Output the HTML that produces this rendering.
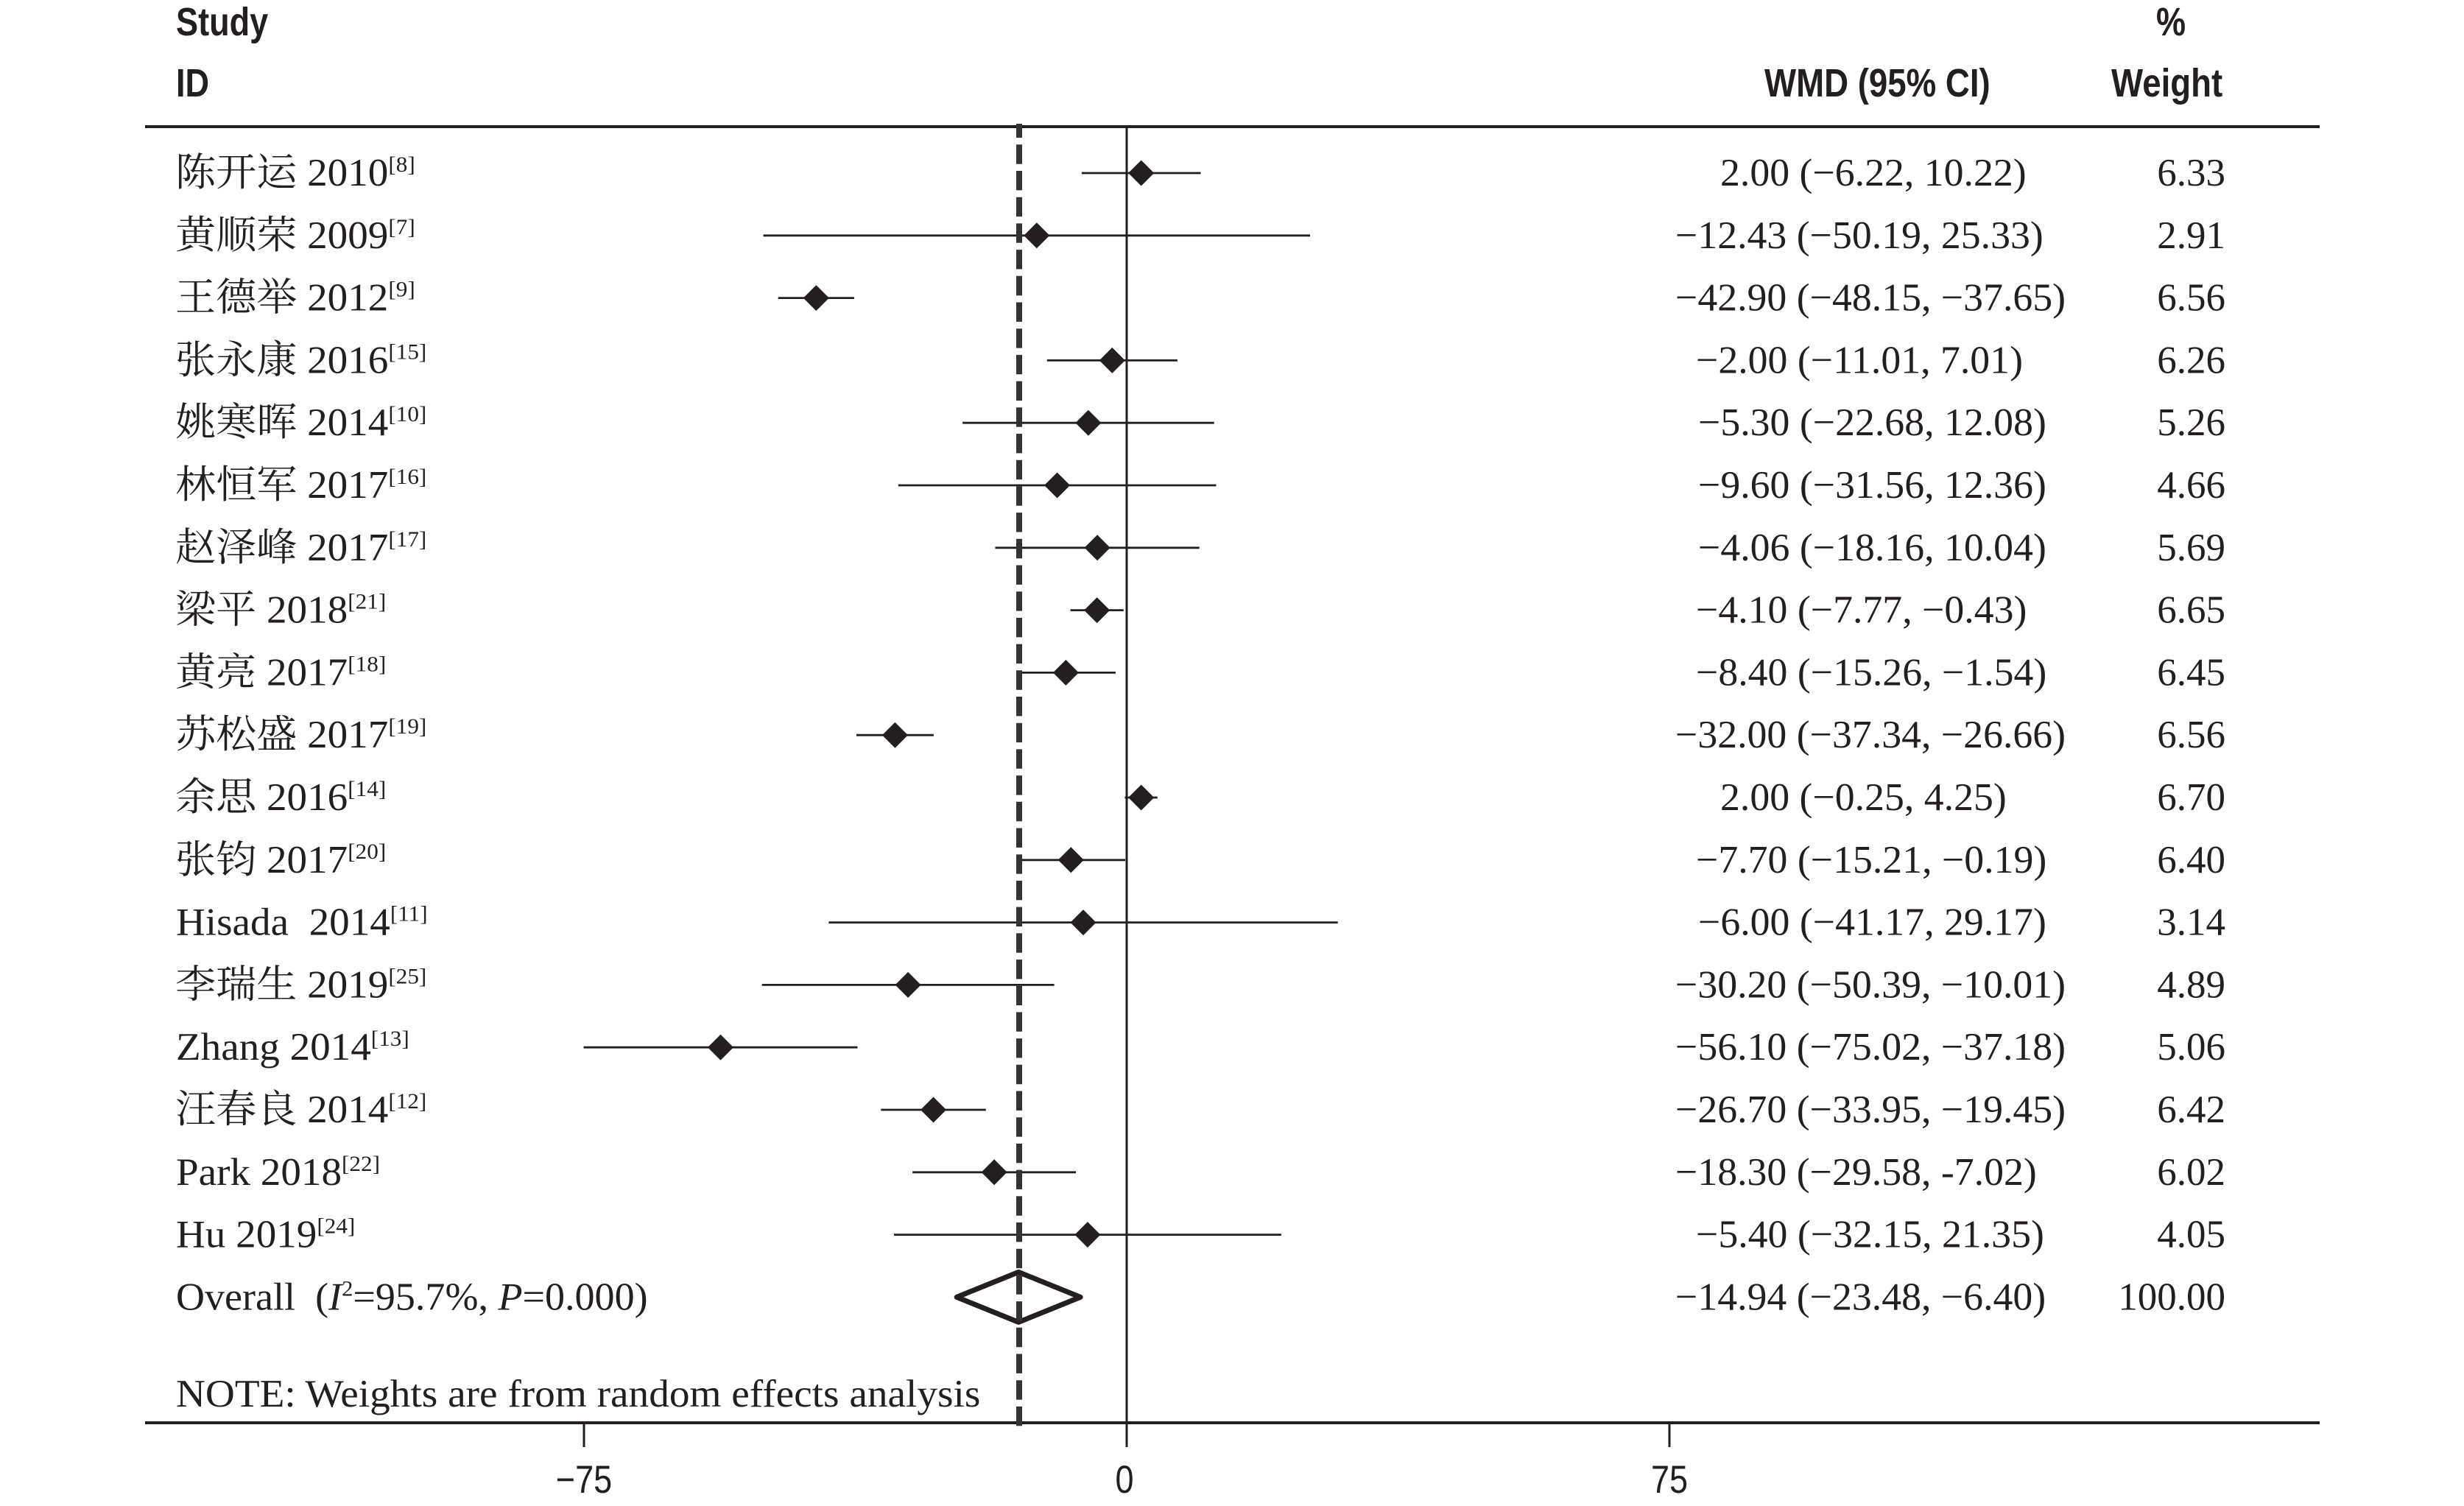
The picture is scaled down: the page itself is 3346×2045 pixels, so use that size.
<!DOCTYPE html>
<html>
<head>
<meta charset="utf-8">
<style>
  html, body { margin:0; padding:0; background:#ffffff; }
  svg { display:block; }
  .lab { font-family:"Liberation Serif","Noto Serif CJK SC",serif; font-size:53px; fill:#231f20; white-space:pre; }
  .hdr { font-family:"Liberation Sans",sans-serif; font-weight:bold; font-size:54px; fill:#231f20; }
  .tick { font-family:"Liberation Sans",sans-serif; font-size:53px; fill:#231f20; }
</style>
</head>
<body>
<svg width="3346" height="2045" viewBox="0 0 3346 2045" xmlns="http://www.w3.org/2000/svg">
  <rect x="0" y="0" width="3346" height="2045" fill="#ffffff"/>

  <!-- Headers -->
  <text class="hdr" transform="translate(239,48) scale(0.835,1)">Study</text>
  <text class="hdr" transform="translate(239,131) scale(0.835,1)">ID</text>
  <text class="hdr" transform="translate(2396,131) scale(0.845,1)">WMD (95% CI)</text>
  <text class="hdr" transform="translate(2928,48) scale(0.835,1)">%</text>
  <text class="hdr" transform="translate(2867,131) scale(0.845,1)">Weight</text>

  <!-- Top & bottom rules -->
  <rect x="197" y="170" width="2953" height="4" fill="#231f20"/>
  <rect x="197" y="1930" width="2953" height="4" fill="#231f20"/>

  <!-- Zero line -->
  <line x1="1530" y1="170" x2="1530" y2="1965" stroke="#231f20" stroke-width="3"/>

  <!-- Ticks -->
  <line x1="793" y1="1932" x2="793" y2="1965" stroke="#231f20" stroke-width="3"/>
  <line x1="2267" y1="1932" x2="2267" y2="1965" stroke="#231f20" stroke-width="3"/>

  <!-- Tick labels -->
  <text class="tick" text-anchor="middle" transform="translate(793,2027) scale(0.85,1)">−75</text>
  <text class="tick" text-anchor="middle" transform="translate(1527,2027) scale(0.85,1)">0</text>
  <text class="tick" text-anchor="middle" transform="translate(2267,2027) scale(0.85,1)">75</text>

  <!-- CI lines -->
  <g stroke="#231f20" stroke-width="2.8">
    <line x1="1468.9" y1="235" x2="1630.5" y2="235"/>
    <line x1="1036.6" y1="319.8" x2="1779.0" y2="319.8"/>
    <line x1="1056.7" y1="404.6" x2="1159.9" y2="404.6"/>
    <line x1="1421.8" y1="489.4" x2="1598.9" y2="489.4"/>
    <line x1="1307.1" y1="574.2" x2="1648.7" y2="574.2"/>
    <line x1="1219.8" y1="659" x2="1651.5" y2="659"/>
    <line x1="1351.5" y1="743.8" x2="1628.7" y2="743.8"/>
    <line x1="1453.6" y1="828.6" x2="1525.8" y2="828.6"/>
    <line x1="1380.0" y1="913.4" x2="1514.9" y2="913.4"/>
    <line x1="1162.9" y1="998.2" x2="1267.9" y2="998.2"/>
    <line x1="1527.5" y1="1083" x2="1571.8" y2="1083"/>
    <line x1="1380.5" y1="1167.8" x2="1528.1" y2="1167.8"/>
    <line x1="1125.3" y1="1252.6" x2="1816.7" y2="1252.6"/>
    <line x1="1034.7" y1="1337.4" x2="1431.6" y2="1337.4"/>
    <line x1="792.5" y1="1422.2" x2="1164.5" y2="1422.2"/>
    <line x1="1196.3" y1="1507" x2="1338.8" y2="1507"/>
    <line x1="1239.2" y1="1591.8" x2="1461.0" y2="1591.8"/>
    <line x1="1213.9" y1="1676.6" x2="1739.9" y2="1676.6"/>
  </g>

  <!-- Point estimate diamonds -->
  <g fill="#231f20">
    <polygon points="1532.2,235 1549.7,217.5 1567.2,235 1549.7,252.5"/>
    <polygon points="1390.3,319.8 1407.8,302.3 1425.3,319.8 1407.8,337.3"/>
    <polygon points="1090.8,404.6 1108.3,387.1 1125.8,404.6 1108.3,422.1"/>
    <polygon points="1492.8,489.4 1510.3,471.9 1527.8,489.4 1510.3,506.9"/>
    <polygon points="1460.4,574.2 1477.9,556.7 1495.4,574.2 1477.9,591.7"/>
    <polygon points="1418.1,659 1435.6,641.5 1453.1,659 1435.6,676.5"/>
    <polygon points="1472.6,743.8 1490.1,726.3 1507.6,743.8 1490.1,761.3"/>
    <polygon points="1472.2,828.6 1489.7,811.1 1507.2,828.6 1489.7,846.1"/>
    <polygon points="1429.9,913.4 1447.4,895.9 1464.9,913.4 1447.4,930.9"/>
    <polygon points="1197.9,998.2 1215.4,980.7 1232.9,998.2 1215.4,1015.7"/>
    <polygon points="1532.2,1083 1549.7,1065.5 1567.2,1083 1549.7,1100.5"/>
    <polygon points="1436.8,1167.8 1454.3,1150.3 1471.8,1167.8 1454.3,1185.3"/>
    <polygon points="1453.5,1252.6 1471.0,1235.1 1488.5,1252.6 1471.0,1270.1"/>
    <polygon points="1215.6,1337.4 1233.1,1319.9 1250.6,1337.4 1233.1,1354.9"/>
    <polygon points="961.0,1422.2 978.5,1404.7 996.0,1422.2 978.5,1439.7"/>
    <polygon points="1250.0,1507 1267.5,1489.5 1285.0,1507 1267.5,1524.5"/>
    <polygon points="1332.6,1591.8 1350.1,1574.3 1367.6,1591.8 1350.1,1609.3"/>
    <polygon points="1459.4,1676.6 1476.9,1659.1 1494.4,1676.6 1476.9,1694.1"/>
  </g>

  <!-- Overall diamond -->
  <polygon points="1299.2,1761.4 1383.1,1727.4 1467.1,1761.4 1383.1,1795.4" fill="none" stroke="#231f20" stroke-width="7" stroke-linejoin="round"/>

  <!-- Dashed overall line -->
  <line x1="1384" y1="168" x2="1384" y2="1936.3" stroke="#333333" stroke-width="8" stroke-dasharray="26.4 9.3" stroke-dashoffset="7.4"/>

  <!-- Study labels -->
  <text class="lab" transform="translate(238,252) scale(1.04,1)">陈开运 2010<tspan dy="-19" font-size="30">[8]</tspan></text>
  <text class="lab" transform="translate(238,336.8) scale(1.04,1)">黄顺荣 2009<tspan dy="-19" font-size="30">[7]</tspan></text>
  <text class="lab" transform="translate(238,421.6) scale(1.04,1)">王德举 2012<tspan dy="-19" font-size="30">[9]</tspan></text>
  <text class="lab" transform="translate(238,506.4) scale(1.04,1)">张永康 2016<tspan dy="-19" font-size="30">[15]</tspan></text>
  <text class="lab" transform="translate(238,591.2) scale(1.04,1)">姚寒晖 2014<tspan dy="-19" font-size="30">[10]</tspan></text>
  <text class="lab" transform="translate(238,676) scale(1.04,1)">林恒军 2017<tspan dy="-19" font-size="30">[16]</tspan></text>
  <text class="lab" transform="translate(238,760.8) scale(1.04,1)">赵泽峰 2017<tspan dy="-19" font-size="30">[17]</tspan></text>
  <text class="lab" transform="translate(238,845.6) scale(1.04,1)">梁平 2018<tspan dy="-19" font-size="30">[21]</tspan></text>
  <text class="lab" transform="translate(238,930.4) scale(1.04,1)">黄亮 2017<tspan dy="-19" font-size="30">[18]</tspan></text>
  <text class="lab" transform="translate(238,1015.2) scale(1.04,1)">苏松盛 2017<tspan dy="-19" font-size="30">[19]</tspan></text>
  <text class="lab" transform="translate(238,1100) scale(1.04,1)">余思 2016<tspan dy="-19" font-size="30">[14]</tspan></text>
  <text class="lab" transform="translate(238,1184.8) scale(1.04,1)">张钧 2017<tspan dy="-19" font-size="30">[20]</tspan></text>
  <text class="lab" transform="translate(239,1269.6) scale(1.04,1)">Hisada  2014<tspan dy="-19" font-size="30">[11]</tspan></text>
  <text class="lab" transform="translate(238,1354.4) scale(1.04,1)">李瑞生 2019<tspan dy="-19" font-size="30">[25]</tspan></text>
  <text class="lab" transform="translate(239,1439.2) scale(1.04,1)">Zhang 2014<tspan dy="-19" font-size="30">[13]</tspan></text>
  <text class="lab" transform="translate(238,1524) scale(1.04,1)">汪春良 2014<tspan dy="-19" font-size="30">[12]</tspan></text>
  <text class="lab" transform="translate(239,1608.8) scale(1.04,1)">Park 2018<tspan dy="-19" font-size="30">[22]</tspan></text>
  <text class="lab" transform="translate(239,1693.6) scale(1.04,1)">Hu 2019<tspan dy="-19" font-size="30">[24]</tspan></text>
  <text class="lab" transform="translate(239,1778.4) scale(1.02,1)">Overall  (<tspan font-style="italic">I</tspan><tspan dy="-19" font-size="30">2</tspan><tspan dy="19">=95.7%, </tspan><tspan font-style="italic">P</tspan>=0.000)</text>
  <text class="lab" transform="translate(239,1910) scale(1.043,1)">NOTE: Weights are from random effects analysis</text>

  <!-- WMD column -->
  <g>
    <text class="lab" transform="translate(2336,252) scale(1.015,1)">2.00 (−6.22, 10.22)</text>
    <text class="lab" transform="translate(2275,336.8) scale(1.015,1)">−12.43 (−50.19, 25.33)</text>
    <text class="lab" transform="translate(2275,421.6) scale(1.015,1)">−42.90 (−48.15, −37.65)</text>
    <text class="lab" transform="translate(2303,506.4) scale(1.015,1)">−2.00 (−11.01, 7.01)</text>
    <text class="lab" transform="translate(2306,591.2) scale(1.015,1)">−5.30 (−22.68, 12.08)</text>
    <text class="lab" transform="translate(2306,676) scale(1.015,1)">−9.60 (−31.56, 12.36)</text>
    <text class="lab" transform="translate(2306,760.8) scale(1.015,1)">−4.06 (−18.16, 10.04)</text>
    <text class="lab" transform="translate(2303,845.6) scale(1.015,1)">−4.10 (−7.77, −0.43)</text>
    <text class="lab" transform="translate(2303,930.4) scale(1.015,1)">−8.40 (−15.26, −1.54)</text>
    <text class="lab" transform="translate(2275,1015.2) scale(1.015,1)">−32.00 (−37.34, −26.66)</text>
    <text class="lab" transform="translate(2336,1100) scale(1.015,1)">2.00 (−0.25, 4.25)</text>
    <text class="lab" transform="translate(2303,1184.8) scale(1.015,1)">−7.70 (−15.21, −0.19)</text>
    <text class="lab" transform="translate(2306,1269.6) scale(1.015,1)">−6.00 (−41.17, 29.17)</text>
    <text class="lab" transform="translate(2275,1354.4) scale(1.015,1)">−30.20 (−50.39, −10.01)</text>
    <text class="lab" transform="translate(2275,1439.2) scale(1.015,1)">−56.10 (−75.02, −37.18)</text>
    <text class="lab" transform="translate(2275,1524) scale(1.015,1)">−26.70 (−33.95, −19.45)</text>
    <text class="lab" transform="translate(2275,1608.8) scale(1.015,1)">−18.30 (−29.58, -7.02)</text>
    <text class="lab" transform="translate(2303,1693.6) scale(1.015,1)">−5.40 (−32.15, 21.35)</text>
    <text class="lab" transform="translate(2275,1778.4) scale(1.015,1)">−14.94 (−23.48, −6.40)</text>
  </g>

  <!-- Weight column -->
  <g text-anchor="end">
    <text class="lab" x="3022" y="252">6.33</text>
    <text class="lab" x="3022" y="336.8">2.91</text>
    <text class="lab" x="3022" y="421.6">6.56</text>
    <text class="lab" x="3022" y="506.4">6.26</text>
    <text class="lab" x="3022" y="591.2">5.26</text>
    <text class="lab" x="3022" y="676">4.66</text>
    <text class="lab" x="3022" y="760.8">5.69</text>
    <text class="lab" x="3022" y="845.6">6.65</text>
    <text class="lab" x="3022" y="930.4">6.45</text>
    <text class="lab" x="3022" y="1015.2">6.56</text>
    <text class="lab" x="3022" y="1100">6.70</text>
    <text class="lab" x="3022" y="1184.8">6.40</text>
    <text class="lab" x="3022" y="1269.6">3.14</text>
    <text class="lab" x="3022" y="1354.4">4.89</text>
    <text class="lab" x="3022" y="1439.2">5.06</text>
    <text class="lab" x="3022" y="1524">6.42</text>
    <text class="lab" x="3022" y="1608.8">6.02</text>
    <text class="lab" x="3022" y="1693.6">4.05</text>
    <text class="lab" x="3022" y="1778.4">100.00</text>
  </g>
</svg>
</body>
</html>
